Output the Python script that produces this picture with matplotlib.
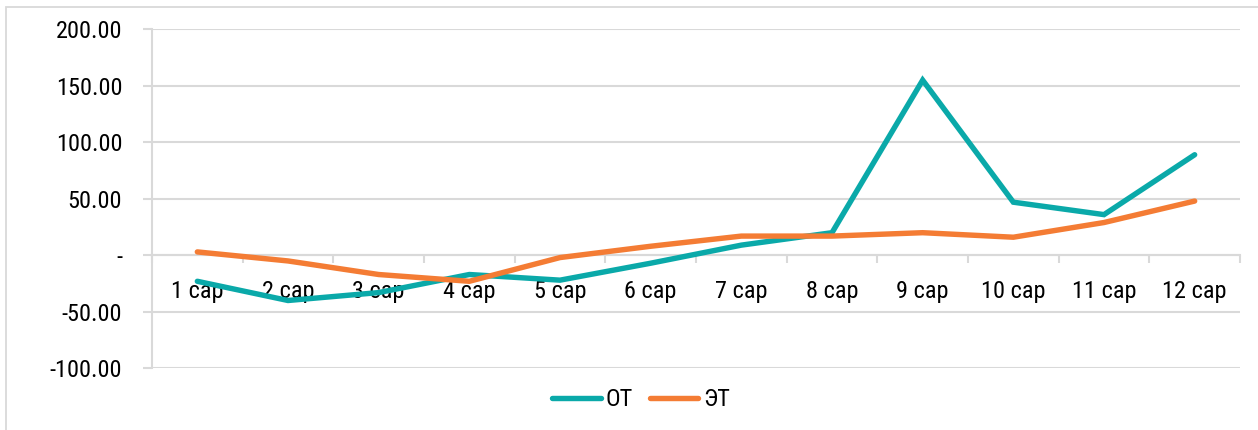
import matplotlib.pyplot as plt
from matplotlib import font_manager
from matplotlib.patches import Rectangle
from matplotlib.ticker import FixedLocator, FuncFormatter

# the reference uses a condensed face; take the narrowest one installed
names = {(f.name, f.stretch) for f in font_manager.fontManager.ttflist}
if any(n == 'Liberation Sans Narrow' for n, s in names):
    plt.rcParams['font.family'] = ['Liberation Sans Narrow', 'DejaVu Sans']
    fs = 17.5
elif any(n == 'Roboto Condensed' for n, s in names):
    plt.rcParams['font.family'] = ['Roboto Condensed', 'DejaVu Sans']
    fs = 17.5
else:
    plt.rcParams['font.family'] = ['DejaVu Sans']
    plt.rcParams['font.stretch'] = 'condensed'
    fs = 15.5

# Data
months = ['1 сар', '2 сар', '3 сар', '4 сар', '5 сар', '6 сар',
          '7 сар', '8 сар', '9 сар', '10 сар', '11 сар', '12 сар']
ot = [-23, -40, -33, -17, -22, -7, 9, 20, 155, 47, 36, 89]
et = [3, -5, -17, -23, -2, 8, 17, 17, 20, 16, 29, 48]

teal = '#0AA9A9'
orange = '#F47C34'
grid = '#D9D9D9'

fig = plt.figure(figsize=(12.58, 4.30), dpi=100)
ax = fig.add_axes([152 / 1258, 1 - 368.3 / 430, (1240 - 152) / 1258, (368.3 - 29.3) / 430])

# outer chart frame
fig.patches.append(Rectangle((6 / 1258, -0.1), 1.2, 1 - 7 / 430 + 0.1,
                             transform=fig.transFigure, fill=False,
                             edgecolor=grid, linewidth=1.3))

x = list(range(len(months)))
ax.plot(x, ot, color=teal, lw=3.9, solid_capstyle='round', solid_joinstyle='miter', label='ОТ', zorder=3)
ax.plot(x, et, color=orange, lw=3.9, solid_capstyle='round', solid_joinstyle='miter', label='ЭТ', zorder=3)

ax.set_xlim(-0.5, len(months) - 0.5)
ax.set_ylim(-100, 200)
ax.set_yticks(range(-100, 201, 50))
ax.yaxis.set_major_formatter(FuncFormatter(lambda v, p: '-' if v == 0 else f'{v:.2f}'))
ax.yaxis.grid(True, color=grid, lw=1.5)
ax.set_axisbelow(True)

for s in ['top', 'right']:
    ax.spines[s].set_visible(False)
ax.spines['left'].set_color(grid)
ax.spines['left'].set_linewidth(1.5)
ax.spines['bottom'].set_position(('data', 0))
ax.spines['bottom'].set_color(grid)
ax.spines['bottom'].set_linewidth(1.5)

ax.tick_params(axis='y', length=6.5, width=1.5, color=grid, pad=15, labelsize=fs)
ax.set_xticks(x)
ax.set_xticklabels(months)
ax.xaxis.set_minor_locator(FixedLocator([i - 0.5 for i in range(len(months) + 1)]))
ax.tick_params(axis='x', which='major', length=0, pad=18, labelsize=fs)
ax.tick_params(axis='x', which='minor', length=6, width=1.5, color=grid, direction='out')

ax.legend(loc='center', bbox_to_anchor=(641 / 1258, 1 - 400 / 430), bbox_transform=fig.transFigure,
          ncol=2, frameon=False, fontsize=fs, handlelength=2.0, handletextpad=0.2, columnspacing=0.7)

fig.savefig('out.png', dpi=100)
